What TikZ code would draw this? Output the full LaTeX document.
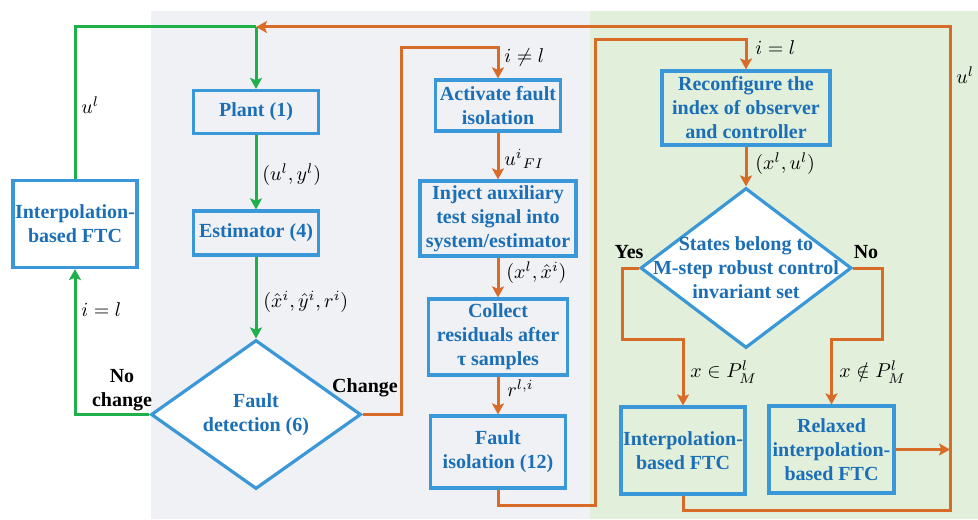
\documentclass[tikz,border=0pt]{standalone}
\usepackage{fontspec}
\setmainfont{Liberation Serif}
\usepackage{tikz}
\usetikzlibrary{arrows.meta,shapes.geometric,backgrounds}

\definecolor{boxblue}{HTML}{3A98D8}
\definecolor{txtblue}{HTML}{1B6FB7}
\definecolor{flowgreen}{HTML}{1DB04B}
\definecolor{floworange}{HTML}{D96B28}
\definecolor{bggray}{HTML}{F0F1F4}
\definecolor{bggreen}{HTML}{E2EFDA}

\tikzset{
	blk/.style={draw=boxblue, line width=1.6pt, text=txtblue, font=\fontsize{10}{12}\selectfont\bfseries, align=center, inner sep=1pt},
	dec/.style={diamond, draw=boxblue, line width=1.6pt, fill=white, text=txtblue, font=\fontsize{10}{12}\selectfont\bfseries, align=center, inner sep=0pt},
	dectxt/.style={text=txtblue, font=\fontsize{10}{12}\selectfont\bfseries, align=center, inner sep=0pt},
	gln/.style={draw=flowgreen, line width=1.5pt},
	oln/.style={draw=floworange, line width=1.5pt},
	lbl/.style={font=\fontsize{10}{12}\selectfont, inner sep=0pt, anchor=west},
	note/.style={font=\fontsize{10}{12}\selectfont\bfseries, align=center, inner sep=0pt}
}

\begin{document}
\begin{tikzpicture}[x=0.5pt, y=-0.5pt, >={Stealth[length=5.5pt,width=6pt,inset=1.2pt]}]
		\useasboundingbox (0,0) rectangle (978,519);
		\fill[bggray] (151,11) rectangle (590,519);
		\fill[bggreen] (590,11) rectangle (978,519);
		
		% detection loop
		\node[blk, minimum width=62.5pt, minimum height=21.5pt] (plant) at (256,112) {Plant (1)};
		\node[blk, minimum width=62.5pt, minimum height=22pt] (est) at (256,233) {Estimator (4)};
		\node[blk, minimum width=62pt, minimum height=43.5pt] (ftcl) at (75,224) {Interpolation-\\based FTC};
		\node[dec, minimum width=105pt, minimum height=74.5pt] (detect) at (256,414.5) {Fault\\detection (6)};
		
		% isolation
		\node[blk, minimum width=62.5pt, minimum height=25.5pt] (act) at (498,105.5) {Activate fault\\isolation};
		\node[blk, minimum width=78pt, minimum height=37.5pt] (inj) at (498,218.5) {Inject auxiliary\\test signal into\\system/estimator};
		\node[blk, minimum width=69.5pt, minimum height=38pt] (coll) at (498,337) {Collect\\residuals after\\τ samples};
		\node[blk, minimum width=67.5pt, minimum height=36pt] (iso) at (498,452) {Fault\\isolation (12)};
		
		% reconfiguration
		\node[blk, minimum width=84pt, minimum height=37pt] (reconf) at (746,108) {Reconfigure the\\index of observer\\and controller};
		\node[dec, minimum width=105.5pt, minimum height=80pt,
			label={[dectxt]center:States belong to\\M-step robust control\\invariant set}] (states) at (746,268) {};
		\node[blk, minimum width=62pt, minimum height=43.5pt] (ftcm) at (683,450.5) {Interpolation-\\based FTC};
		\node[blk, minimum width=62.5pt, minimum height=43.5pt] (relax) at (831.5,449.5) {Relaxed\\interpolation-\\based FTC};
		
		\coordinate (jn) at (256,27);
		\coordinate (chg) at (401,48);
		\coordinate (lpb) at (595,505);
		\coordinate (lpt) at (595,40);
		\coordinate (yes) at (622,339);
		\coordinate (no) at (882,339);
		\coordinate (rb) at (950,510);
		\coordinate (rt) at (950,27);
		
		\draw[gln] (ftcl.north) |- (jn);
		\draw[gln,->] (jn) -- (plant.north);
		\draw[gln,->] (plant) -- (est);
		\draw[gln,->] (est) -- (detect.north);
		\draw[gln,->] (detect.west) -| (ftcl.south);
		
		\draw[oln,->] (detect.east) -| (chg) -| (act.north);
		\draw[oln,->] (act) -- (inj);
		\draw[oln,->] (inj) -- (coll);
		\draw[oln,->] (coll) -- (iso);
		\draw[oln,->] (iso.south) |- (lpb) -- (lpt) -| (reconf.north);
		\draw[oln,->] (reconf) -- (states.north);
		\draw[oln,->] (states.west) -| (yes) -| (ftcm.north);
		\draw[oln,->] (states.east) -| (no) -| (relax.north);
		\draw[oln,->] (relax.east) -- (relax.east -| rb);
		\draw[oln,->] (ftcm.south) |- (rb) -- (rt) -- (jn);
		
		% labels
		\node[lbl] (ulleft) at (81,105) {$u^l$};
		\node[lbl] (uy) at (262,175) {$(u^l, y^l)$};
		\node[lbl] (xyr) at (263,302) {$(\hat{x}^i,\hat{y}^i,r^i)$};
		\node[lbl] (ileft) at (81,310) {$i=l$};
		\node[note] (nochg) at (122,390) {No\\change};
		\node[note] (chgtxt) at (365,388) {Change};
		\node[lbl] (ineq) at (504,58) {$i\neq l$};
		\node[lbl] (ufi) at (504,159) {${u^i}_{FI}$};
		\node[lbl] (xx) at (506,273) {$(x^l, \hat{x}^i)$};
		\node[lbl] (rli) at (507,388) {$r^{l,i}$};
		\node[lbl] (ieq) at (755,48) {$i=l$};
		\node[lbl] (xu) at (755,164) {$(x^l, u^l)$};
		\node[lbl] (ulright) at (956,75) {$u^l$};
		\node[note] (yestxt) at (629,252) {Yes};
		\node[note] (notxt) at (866,252) {No};
		\node[lbl] (inset) at (690,372) {$x\in P_M^l$};
		\node[lbl] (notinset) at (839,372) {$x\notin P_M^l$};
	\end{tikzpicture}
\end{document}
